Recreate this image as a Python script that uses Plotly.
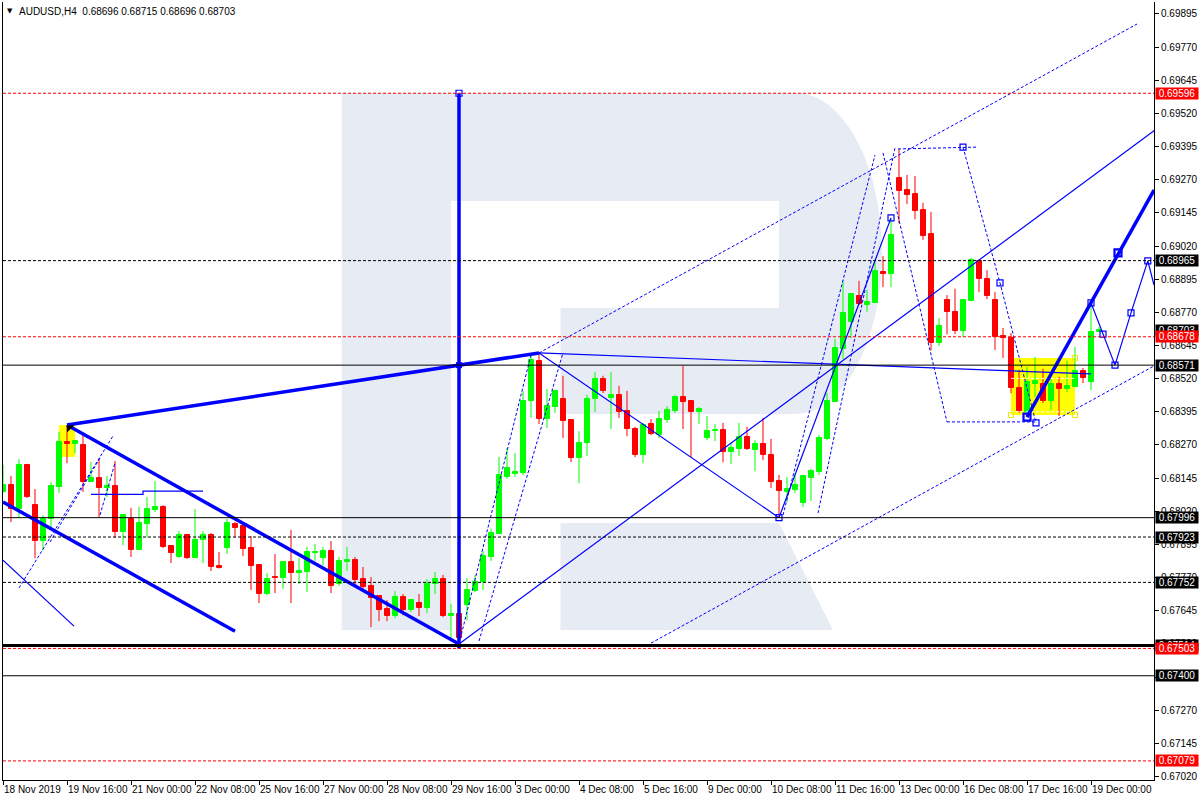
import plotly.graph_objects as go

# ---------------- data ----------------
bar_index = list(range(2, 140))

open_ = [0.68093, 0.68119, 0.68028, 0.68195, 0.68043, 0.67907, 0.67990, 0.68112, 0.68281, 0.68273,
         0.68270, 0.68130, 0.68146, 0.68108, 0.68115, 0.67941, 0.67991, 0.67874, 0.67972, 0.68025,
         0.68036, 0.67889, 0.67848, 0.67931, 0.67844, 0.67912, 0.67931, 0.67814, 0.67882, 0.67972,
         0.67965, 0.67882, 0.67817, 0.67708, 0.67772, 0.67768, 0.67829, 0.67787, 0.67791, 0.67863,
         0.67844, 0.67870, 0.67746, 0.67829, 0.67836, 0.67764, 0.67738, 0.67700, 0.67651, 0.67625,
         0.67696, 0.67647, 0.67674, 0.67655, 0.67746, 0.67764, 0.67626, 0.67633, 0.67666, 0.67719,
         0.67753, 0.67848, 0.67934, 0.68149, 0.68161, 0.68163, 0.68436, 0.68587, 0.68368, 0.68413,
         0.68444, 0.68364, 0.68220, 0.68277, 0.68444, 0.68519, 0.68447, 0.68459, 0.68398, 0.68330,
         0.68232, 0.68349, 0.68307, 0.68364, 0.68398, 0.68451, 0.68436, 0.68394, 0.68296, 0.68322,
         0.68326, 0.68243, 0.68254, 0.68300, 0.68251, 0.68273, 0.68233, 0.68134, 0.68093, 0.68100,
         0.68051, 0.68146, 0.68168, 0.68292, 0.68432, 0.68632, 0.68733, 0.68832, 0.68798, 0.68805,
         0.68922, 0.68914, 0.69277, 0.69231, 0.69216, 0.69157, 0.69066, 0.68654, 0.68816, 0.68772,
         0.68700, 0.68812, 0.68964, 0.68895, 0.68817, 0.68681, 0.68673, 0.68485, 0.68394, 0.68500,
         0.68500, 0.68436, 0.68500, 0.68481, 0.68489, 0.68548, 0.68507, 0.68696]

high_ = [0.68195, 0.68153, 0.68217, 0.68199, 0.68104, 0.68006, 0.68130, 0.68320, 0.68345, 0.68288,
         0.68308, 0.68206, 0.68217, 0.68153, 0.68210, 0.68009, 0.68033, 0.68037, 0.68074, 0.68134,
         0.68043, 0.67893, 0.67946, 0.67935, 0.68029, 0.67946, 0.67938, 0.67867, 0.67991, 0.67979,
         0.67973, 0.67927, 0.67819, 0.67787, 0.67859, 0.67833, 0.67950, 0.67844, 0.67886, 0.67897,
         0.67886, 0.67908, 0.67848, 0.67886, 0.67848, 0.67810, 0.67772, 0.67702, 0.67685, 0.67719,
         0.67708, 0.67689, 0.67708, 0.67764, 0.67791, 0.67780, 0.67671, 0.67648, 0.67768, 0.67780,
         0.67870, 0.67954, 0.68225, 0.68259, 0.68240, 0.68474, 0.68610, 0.68617, 0.68481, 0.68478,
         0.68531, 0.68367, 0.68322, 0.68459, 0.68546, 0.68531, 0.68546, 0.68493, 0.68474, 0.68338,
         0.68353, 0.68368, 0.68398, 0.68417, 0.68459, 0.68568, 0.68438, 0.68413, 0.68379, 0.68349,
         0.68353, 0.68281, 0.68353, 0.68338, 0.68288, 0.68372, 0.68293, 0.68157, 0.68149, 0.68164,
         0.68153, 0.68180, 0.68308, 0.68466, 0.68670, 0.68889, 0.68843, 0.68889, 0.68855, 0.68960,
         0.68982, 0.69126, 0.69386, 0.69288, 0.69284, 0.69183, 0.69149, 0.68749, 0.68835, 0.68859,
         0.68817, 0.68975, 0.68971, 0.68929, 0.68847, 0.68711, 0.68692, 0.68553, 0.68565, 0.68602,
         0.68557, 0.68523, 0.68527, 0.68587, 0.68640, 0.68560, 0.68806, 0.68715]

low_ = [0.68089, 0.67979, 0.67998, 0.68070, 0.67843, 0.67873, 0.67960, 0.68089, 0.68201, 0.68239,
        0.68093, 0.68130, 0.67998, 0.68074, 0.67919, 0.67892, 0.67848, 0.67874, 0.67922, 0.68017,
        0.67881, 0.67825, 0.67844, 0.67840, 0.67844, 0.67825, 0.67795, 0.67804, 0.67859, 0.67922,
        0.67852, 0.67723, 0.67674, 0.67704, 0.67712, 0.67727, 0.67674, 0.67746, 0.67715, 0.67833,
        0.67817, 0.67712, 0.67738, 0.67795, 0.67738, 0.67727, 0.67583, 0.67606, 0.67606, 0.67617,
        0.67628, 0.67640, 0.67625, 0.67636, 0.67708, 0.67621, 0.67535, 0.67520, 0.67609, 0.67715,
        0.67723, 0.67833, 0.67934, 0.68142, 0.68149, 0.68156, 0.68372, 0.68349, 0.68334, 0.68391,
        0.68296, 0.68205, 0.68126, 0.68228, 0.68394, 0.68466, 0.68330, 0.68372, 0.68303, 0.68224,
        0.68201, 0.68307, 0.68296, 0.68353, 0.68391, 0.68330, 0.68224, 0.68349, 0.68288, 0.68285,
        0.68205, 0.68198, 0.68228, 0.68251, 0.68171, 0.68213, 0.68108, 0.67996, 0.68055, 0.68089,
        0.68036, 0.68059, 0.68157, 0.68288, 0.68432, 0.68594, 0.68672, 0.68798, 0.68772, 0.68805,
        0.68865, 0.68865, 0.69106, 0.69178, 0.69121, 0.69043, 0.68627, 0.68643, 0.68687, 0.68688,
        0.68677, 0.68812, 0.68846, 0.68820, 0.68628, 0.68598, 0.68465, 0.68391, 0.68375, 0.68451,
        0.68428, 0.68402, 0.68379, 0.68470, 0.68489, 0.68503, 0.68477, 0.68696]

close_ = [0.68119, 0.68028, 0.68195, 0.68074, 0.67907, 0.67990, 0.68115, 0.68282, 0.68273, 0.68285,
          0.68130, 0.68146, 0.68108, 0.68115, 0.67941, 0.68006, 0.67874, 0.67976, 0.68028, 0.68036,
          0.67885, 0.67863, 0.67931, 0.67844, 0.67912, 0.67931, 0.67810, 0.67806, 0.67976, 0.67956,
          0.67878, 0.67814, 0.67708, 0.67764, 0.67768, 0.67829, 0.67787, 0.67795, 0.67867, 0.67867,
          0.67870, 0.67738, 0.67833, 0.67836, 0.67761, 0.67734, 0.67693, 0.67647, 0.67625, 0.67696,
          0.67647, 0.67685, 0.67655, 0.67746, 0.67764, 0.67625, 0.67633, 0.67542, 0.67723, 0.67753,
          0.67852, 0.67938, 0.68157, 0.68183, 0.68168, 0.68436, 0.68591, 0.68368, 0.68417, 0.68474,
          0.68360, 0.68220, 0.68277, 0.68444, 0.68519, 0.68474, 0.68459, 0.68394, 0.68330, 0.68232,
          0.68345, 0.68311, 0.68368, 0.68402, 0.68451, 0.68432, 0.68394, 0.68406, 0.68322, 0.68326,
          0.68243, 0.68258, 0.68300, 0.68254, 0.68273, 0.68232, 0.68130, 0.68096, 0.68104, 0.68119,
          0.68153, 0.68172, 0.68297, 0.68436, 0.68636, 0.68768, 0.68839, 0.68802, 0.68809, 0.68926,
          0.68914, 0.69062, 0.69227, 0.69212, 0.69152, 0.69058, 0.68653, 0.68719, 0.68771, 0.68700,
          0.68817, 0.68967, 0.68895, 0.68831, 0.68677, 0.68673, 0.68484, 0.68398, 0.68508, 0.68512,
          0.68436, 0.68500, 0.68481, 0.68493, 0.68549, 0.68522, 0.68696, 0.68703]

x_tick_index = [2, 10, 18, 26, 34, 42, 50, 58, 66, 74, 82, 90, 98, 106, 114, 122, 130, 138]
x_tick_text = ["18 Nov 2019", "19 Nov 16:00", "21 Nov 00:00", "22 Nov 08:00", "25 Nov 16:00",
               "27 Nov 00:00", "28 Nov 08:00", "29 Nov 16:00", "3 Dec 00:00", "4 Dec 08:00",
               "5 Dec 16:00", "9 Dec 00:00", "10 Dec 08:00", "11 Dec 16:00", "13 Dec 00:00",
               "16 Dec 08:00", "17 Dec 16:00", "19 Dec 00:00"]

y_tick_values = [0.69895, 0.69770, 0.69645, 0.69520, 0.69395, 0.69270, 0.69145, 0.69020,
                 0.68895, 0.68770, 0.68645, 0.68520, 0.68395, 0.68270, 0.68145, 0.68020,
                 0.67895, 0.67770, 0.67645, 0.67520, 0.67395, 0.67270, 0.67145, 0.67020]

# horizontal levels
level_prices = [0.69596, 0.68965, 0.68678, 0.68571, 0.67996, 0.67923, 0.67752, 0.67514, 0.67503, 0.67400, 0.67079]
level_colors = ["red", "black", "red", "black", "black", "black", "black", "black", "red", "black", "red"]
level_dashed = [True, True, True, False, False, True, True, False, True, False, True]
level_widths = [1, 1, 1, 1, 1, 1, 1, 3, 1, 1, 1]

# price boxes on the axis (drawn in this order)
label_prices = [0.69596, 0.68965, 0.68703, 0.68678, 0.68571, 0.67996, 0.67923, 0.67752, 0.67514, 0.67503, 0.67400, 0.67079]
label_colors = ["red", "black", "black", "red", "black", "black", "black", "black", "black", "red", "black", "red"]

# analysis objects (bar index, price)
thick_lines = {
    "A": ([10, 59, 69], [0.68345, 0.68571, 0.68617]),
    "C": ([10, 59], [0.68345, 0.67520]),
    "D": ([2, 31], [0.68055, 0.67568]),
    "B": ([59, 59], [0.69596, 0.67503]),
    "L": ([130, 145.875], [0.68375, 0.69231]),
}
thin_lines = {
    "E": ([2, 10.875], [0.67836, 0.67587]),
    "G": ([13, 19.5, 19.5, 27], [0.68084, 0.68084, 0.68096, 0.68096]),
    "H": ([59, 146], [0.67520, 0.69457]),
    "I": ([69, 99], [0.68617, 0.67996]),
    "J": ([99, 113], [0.67996, 0.69126]),
    "K": ([69, 138], [0.68617, 0.68538]),
    "M": ([138, 139.5, 141, 143, 145.1, 145.875], [0.68806, 0.68688, 0.68571, 0.68768, 0.68964, 0.68873]),
}
dotted_lines = {
    "F1": ([4, 15.75], [0.67731, 0.68304]),
    "F2": ([7.875, 14.125], [0.67904, 0.68221]),
    "F3": ([14.125, 16], [0.68006, 0.68202]),
    "N": ([69, 143.75], [0.68617, 0.69857]),
    "O": ([83, 145.875], [0.67523, 0.68568]),
    "P1": ([59, 68], [0.67520, 0.68610]),
    "P2": ([61.5, 72], [0.67531, 0.68617]),
    "Q1": ([103.875, 113.5], [0.68013, 0.69390]),
    "Q2": ([99.5, 111], [0.68006, 0.69363]),
    "Q3": ([112, 120], [0.69371, 0.68357]),
    "Q4": ([120, 131.125], [0.68357, 0.68357]),
    "Q5": ([113.875, 123.875], [0.69386, 0.69393]),
    "Q6": ([122, 126.625, 131.125], [0.69393, 0.68881, 0.68353]),
}
square_x = [59, 99, 113, 122, 126.625, 131.125, 138, 139.5, 141, 143, 145.1]
square_y = [0.69596, 0.67996, 0.69126, 0.69393, 0.68881, 0.68353, 0.68806, 0.68688, 0.68571, 0.68768, 0.68964]
thick_square_x = [130, 141.375]
thick_square_y = [0.68375, 0.68994]

yellow_boxes = [(9, 11, 0.68225, 0.68345), (128, 136, 0.68383, 0.68598)]
white_dash_prices = [0.68521, 0.68395]

title_text = "AUDUSD,H4  0.68696 0.68715 0.68696 0.68703"

# ---------------- figure ----------------
W, H = 1200, 800
ML, MR, MT, MB = 3, 46, 2, 20
FONT = "Liberation Sans, Arial, sans-serif"
GREEN, RED, BLUE = "#00FF00", "#FF0000", "#0000FF"

def px(X):
    return (X - ML) / (W - ML - MR)

def py(Y):
    return 1 - (Y - MT) / (H - MT - MB)

fig = go.Figure()
shapes = []

def path(cmds):
    out = []
    for c in cmds:
        if isinstance(c, str):
            out.append(c)
        else:
            out.append(f"{px(c[0]):.5f},{py(c[1]):.5f}")
    return " ".join(out)

# decorative watermark "R"
wm_color = "#E7ECF4"
shapes.append(dict(type="path", xref="paper", yref="paper", layer="below", fillcolor=wm_color,
                   line=dict(width=0),
                   path=path(["M", (341.6, 92.7), "L", (795, 92.7),
                              "C", (843, 92.7), (882, 164.4), (882, 253),
                              "C", (882, 341.6), (843, 414), (795, 414),
                              "L", (560.5, 414), "L", (560.5, 308), "L", (779, 308), "L", (779, 201),
                              "L", (451, 201), "L", (451, 630), "L", (341.6, 630), "Z"])))
shapes.append(dict(type="path", xref="paper", yref="paper", layer="below", fillcolor=wm_color,
                   line=dict(width=0),
                   path=path(["M", (560.5, 523), "L", (779, 523), "L", (833, 630), "L", (560.5, 630), "Z"])))

for x0, x1, y0, y1 in yellow_boxes:
    shapes.append(dict(type="rect", xref="x", yref="y", x0=x0, x1=x1, y0=y0, y1=y1,
                       fillcolor="#FFFF00", line=dict(width=0), layer="below"))

def wick_xy(up):
    xs, ys = [], []
    for i, o, h, l, c in zip(bar_index, open_, high_, low_, close_):
        if (c >= o) == up:
            xs += [i, i, None]
            ys += [l, h, None]
    return xs, ys

for up, col in [(True, GREEN), (False, RED)]:
    wx, wy = wick_xy(up)
    fig.add_trace(go.Scatter(x=wx, y=wy, mode="lines", line=dict(color=col, width=1),
                             hoverinfo="skip", showlegend=False))

body_base = [min(o, c) for o, c in zip(open_, close_)]
body_h = [max(abs(c - o), 0.00002) for o, c in zip(open_, close_)]
body_col = [GREEN if c >= o else RED for o, c in zip(open_, close_)]
fig.add_trace(go.Bar(x=bar_index, y=body_h, base=body_base, width=0.625,
                     marker=dict(color=body_col, line=dict(color=body_col, width=1)),
                     hoverinfo="skip", showlegend=False))

for p in white_dash_prices:
    fig.add_trace(go.Scatter(x=[128, 136], y=[p, p], mode="lines",
                             line=dict(color="white", width=1, dash="3px,2px"),
                             hoverinfo="skip", showlegend=False))

for name, (xs, ys) in dotted_lines.items():
    fig.add_trace(go.Scatter(x=xs, y=ys, mode="lines", line=dict(color=BLUE, width=1, dash="3px,2px"),
                             hoverinfo="skip", showlegend=False))
for name, (xs, ys) in thin_lines.items():
    fig.add_trace(go.Scatter(x=xs, y=ys, mode="lines", line=dict(color=BLUE, width=1.2),
                             hoverinfo="skip", showlegend=False))
for name, (xs, ys) in thick_lines.items():
    fig.add_trace(go.Scatter(x=xs, y=ys, mode="lines", line=dict(color=BLUE, width=3.5),
                             hoverinfo="skip", showlegend=False))

fig.add_trace(go.Scatter(x=square_x, y=square_y, mode="markers",
                         marker=dict(symbol="square-open", size=6, color=BLUE, line=dict(width=1.2, color=BLUE)),
                         hoverinfo="skip", showlegend=False))
fig.add_trace(go.Scatter(x=thick_square_x, y=thick_square_y, mode="markers",
                         marker=dict(symbol="square-open", size=7, color=BLUE, line=dict(width=2.2, color=BLUE)),
                         hoverinfo="skip", showlegend=False))
fig.add_trace(go.Scatter(x=[59], y=[0.68571], mode="markers",
                         marker=dict(symbol="square", size=6, color=BLUE),
                         hoverinfo="skip", showlegend=False))
fig.add_trace(go.Scatter(x=[128, 136, 136], y=[0.68383, 0.68598, 0.68383], mode="markers",
                         marker=dict(symbol="square-open", size=5, color="#E8E800", line=dict(width=1, color="#E8E800")),
                         hoverinfo="skip", showlegend=False))
fig.add_trace(go.Scatter(x=[10.3], y=[0.68335], mode="markers",
                         marker=dict(symbol="triangle-nw", size=8, color="black"),
                         hoverinfo="skip", showlegend=False))

for p, col, dashed, wdt in zip(level_prices, level_colors, level_dashed, level_widths):
    shapes.append(dict(type="line", xref="paper", yref="y", x0=0, x1=1, y0=p, y1=p, layer="above",
                       line=dict(color=RED if col == "red" else "black", width=wdt,
                                 dash="3px,2px" if dashed else "solid")))

annotations = []
for p, col in zip(label_prices, label_colors):
    annotations.append(dict(x=1, xref="paper", xanchor="left", xshift=1, y=p, yref="y", yanchor="middle",
                            text=f"{p:.5f}", showarrow=False, width=42, height=11, borderpad=0,
                            bgcolor=RED if col == "red" else "black",
                            font=dict(family=FONT, size=10, color="white")))

annotations.append(dict(x=0, xref="paper", xanchor="left", xshift=14, y=1, yref="paper", yanchor="middle",
                        yshift=-9, text=title_text, showarrow=False,
                        font=dict(family=FONT, size=10, color="black")))
annotations.append(dict(x=0, xref="paper", xanchor="left", xshift=2, y=1, yref="paper", yanchor="middle",
                        yshift=-9, text="▼", showarrow=False,
                        font=dict(family="DejaVu Sans", size=7, color="black")))

fig.update_layout(
    width=W, height=H,
    margin=dict(l=ML, r=MR, t=MT, b=MB, pad=0, autoexpand=False),
    paper_bgcolor="white", plot_bgcolor="white",
    showlegend=False, barmode="overlay", bargap=0,
    font=dict(family=FONT, size=10, color="black"),
    shapes=shapes, annotations=annotations,
    xaxis=dict(range=[2, 145.875], tickmode="array", tickvals=x_tick_index, ticktext=x_tick_text,
               ticks="outside", ticklen=4, tickcolor="black", showline=True, linecolor="black",
               linewidth=1, showgrid=False, zeroline=False, ticklabelposition="outside right",
               tickangle=0, automargin=False,
               tickfont=dict(family=FONT, size=10, color="black")),
    yaxis=dict(side="right", range=[0.67007, 0.69940], tickmode="array", tickvals=y_tick_values,
               ticktext=[f"{v:.5f}" for v in y_tick_values], ticks="outside", ticklen=4,
               tickcolor="black", showline=True, linecolor="black", linewidth=1, mirror=True,
               showgrid=False, zeroline=False, automargin=False,
               tickfont=dict(family=FONT, size=10, color="black")),
)

fig.write_html("out.html", config={"displayModeBar": False},
               post_script="document.body.style.margin='0';document.body.style.overflow='hidden';")
